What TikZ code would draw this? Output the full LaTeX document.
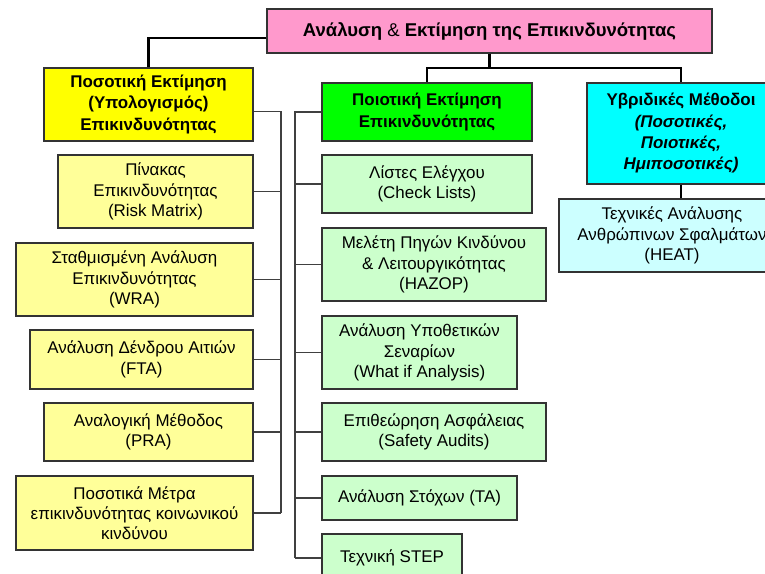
\documentclass[tikz,border=0pt]{standalone}
\usepackage{fontspec}
\setmainfont{Liberation Sans}
\usepackage{tikz}
\definecolor{cTop}{HTML}{FF99CC}
\definecolor{cQuan}{HTML}{FFFF00}
\definecolor{cQuanL}{HTML}{FFFF99}
\definecolor{cQual}{HTML}{00FF00}
\definecolor{cQualL}{HTML}{CCFFCC}
\definecolor{cHyb}{HTML}{00FFFF}
\definecolor{cHybL}{HTML}{CCFFFF}
\definecolor{cInk}{HTML}{333333}
\tikzset{
  box/.style    = {draw=cInk, line width=0.8pt, align=center, inner sep=2pt,
                   font=\fontsize{12.7}{15.2}\selectfont},
  head/.style   = {box, font=\fontsize{12.7}{16}\selectfont\bfseries},
  topbox/.style = {head, fill=cTop, font=\fontsize{13.9}{16}\selectfont\bfseries},
  quanhd/.style = {head, fill=cQuan},
  qualhd/.style = {head, fill=cQual},
  hybhd/.style  = {head, fill=cHyb},
  quanbox/.style = {box, fill=cQuanL},
  qualbox/.style = {box, fill=cQualL},
  hybbox/.style  = {box, fill=cHybL},
  trunk/.style  = {draw=black, line width=1.6pt},
  branch/.style = {draw=black!75, line width=0.8pt},
}
\begin{document}
\begin{tikzpicture}[x=0.75pt, y=-0.75pt]
  \clip (0,0) rectangle (765,574);
  % ---- top of the tree ----
  \node[topbox, minimum width=333.75pt, minimum height=33pt] (top) at (489.5,31)
    {Ανάλυση {\mdseries\&} Εκτίμηση της Επικινδυνότητας};
  \node[quanhd, minimum width=156.75pt, minimum height=54.75pt] (quan) at (148.5,104.5)
    {Ποσοτική Εκτίμηση\\ (Υπολογισμός)\\ Επικινδυνότητας};
  \node[qualhd, minimum width=157.5pt, minimum height=43.5pt] (qual) at (427,112)
    {Ποιοτική Εκτίμηση\\ Επικινδυνότητας};
  \node[hybhd, minimum width=141pt, minimum height=75.75pt] (hyb) at (681,133.5)
    {Υβριδικές Μέθοδοι\\ \textit{(Ποσοτικές,}\\ \textit{Ποιοτικές,}\\ \textit{Ημιποσοτικές)}};
  \coordinate (split) at (489.5,68);
  \draw[trunk] ([yshift=-5pt]top.west) -| (quan.north);
  \draw[trunk] (top.south) -- (split) -| (qual.north);
  \draw[trunk] (split) -| (hyb.north);
  % ---- quantitative column ----
  \node[quanbox, minimum width=146.25pt, minimum height=54.75pt] (rm) at (155.5,191.5)
    {Πίνακας\\ Επικινδυνότητας\\ (Risk Matrix)};
  \node[quanbox, minimum width=177.75pt, minimum height=54.75pt] (wra) at (134.5,279.5)
    {Σταθμισμένη Ανάλυση\\ Επικινδυνότητας\\ (WRA)};
  \node[quanbox, minimum width=167.25pt, minimum height=44.25pt] (fta) at (141.5,359.5)
    {Ανάλυση Δένδρου Αιτιών\\ (FTA)};
  \node[quanbox, minimum width=156.75pt, minimum height=43.5pt] (pra) at (148.5,432)
    {Αναλογική Μέθοδος\\ (PRA)};
  \node[quanbox, minimum width=177.75pt, minimum height=55.5pt] (soc) at (134.5,513)
    {Ποσοτικά Μέτρα\\ επικινδυνότητας κοινωνικού\\ κινδύνου};
  \coordinate (quanbus) at (281,0);
  \draw[branch] ([yshift=-5.5pt]quan.east) -- ([yshift=-5.5pt]quan.east -| quanbus)
    -- (quanbus |- soc.east);
  \foreach \n in {rm,wra,fta,pra,soc}
    \draw[branch] (\n.east) -- (\n.east -| quanbus);
  % ---- qualitative column ----
  \node[qualbox, minimum width=157.5pt, minimum height=43.5pt] (cl) at (427,184)
    {Λίστες Ελέγχου\\ (Check Lists)};
  \node[qualbox, minimum width=168pt, minimum height=54.75pt] (hz) at (434,264.5)
    {Μελέτη Πηγών Κινδύνου\\ \& Λειτουργικότητας\\ (HAZOP)};
  \node[qualbox, minimum width=146.25pt, minimum height=54.75pt] (wi) at (419.5,352.5)
    {Ανάλυση Υποθετικών\\ Σεναρίων\\ (What if Analysis)};
  \node[qualbox, minimum width=168pt, minimum height=43.5pt] (sa) at (434,432)
    {Επιθεώρηση Ασφάλειας\\ (Safety Audits)};
  \node[qualbox, minimum width=146.25pt, minimum height=33pt] (ta) at (419.5,498)
    {Ανάλυση Στόχων (TA)};
  \node[qualbox, minimum width=105pt, minimum height=36pt] (st) at (392,558)
    {Τεχνική STEP};
  \coordinate (qualbus) at (295,0);
  \draw[branch] (qual.west) -- (qual.west -| qualbus) -- (qualbus |- st.west);
  \foreach \n in {cl,hz,wi,sa,ta,st}
    \draw[branch] (\n.west) -- (\n.west -| qualbus);
  % ---- hybrid column ----
  \node[hybbox, minimum width=169.5pt, minimum height=54.75pt] (heat) at (672,235.5)
    {Τεχνικές Ανάλυσης\\ Ανθρώπινων Σφαλμάτων\\ (HEAT)};
  \draw[branch, draw=black] (hyb.south) -- (hyb.south |- heat.north);
\end{tikzpicture}
\end{document}
